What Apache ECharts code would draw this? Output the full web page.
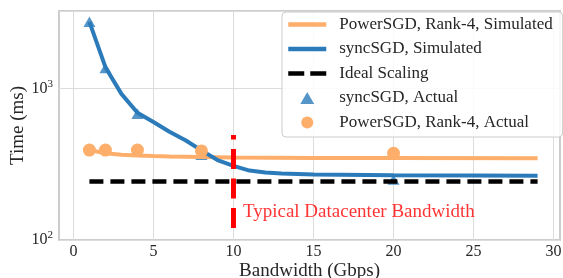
<!DOCTYPE html>
<html>
<head>
<meta charset="utf-8">
<script src="https://cdn.jsdelivr.net/npm/echarts@6/dist/echarts.min.js"></script>
<style>
  html, body { margin: 0; padding: 0; background: #fff; }
  #chart { width: 563px; height: 278px; }
</style>
</head>
<body>
<div id="chart"></div>
<script>
// bandwidth (Gbps) where the simulated curves were read
var simX = [1, 2, 3, 4, 5, 6, 7, 8, 9, 10, 11, 12, 13, 15, 20, 25, 29];
var syncSim = [2750, 1380, 920, 690, 600, 518, 455, 390, 337, 308, 287, 279, 275, 270, 267, 266, 265];
var powerSimX = [1, 2, 3, 4, 5, 6, 8, 10, 15, 20, 29];
var powerSim = [392, 373, 365, 361, 358, 356, 353, 350, 348, 347, 346];

// measured points
var syncActX = [1, 2, 4, 8, 20];
var syncAct = [2750, 1360, 680, 365, 250];
var powerActX = [1, 2, 4, 8, 20];
var powerAct = [392, 392, 392, 387, 373];

// ideal scaling line and datacenter marker
var idealX = [1, 29];
var ideal = [243, 243];
var dcX = [10, 10];
var dcY = [120, 493];

var xTicks = [0, 5, 10, 15, 20, 25, 30];
var yTicks = [100, 1000];

var FONT = "Liberation Serif";
var ORANGE = "#fdae6b";
var BLUE = "#2b7bba";
var TRIANGLE = "path://M6,0 L12,10.4 L0,10.4 Z";

function pairs(xs, ys) {
  return xs.map(function (x, i) { return [x, ys[i]]; });
}

var chart = echarts.init(document.getElementById("chart"), null, { renderer: "canvas" });

chart.setOption({
  animation: false,
  textStyle: { fontFamily: FONT, color: "#262626" },
  grid: {
    left: 59, right: 3, top: 11, bottom: 38,
    outerBoundsMode: "none",
    show: true, borderColor: "#cccccc", borderWidth: 2, backgroundColor: "#fff"
  },
  legend: {
    orient: "vertical",
    left: 282, top: 12,
    padding: [4, 10, 6, 4],
    itemWidth: 38, itemHeight: 12, itemGap: 7.5,
    symbolKeepAspect: true,
    backgroundColor: "rgba(255,255,255,0.85)",
    borderColor: "#cccccc", borderWidth: 1, borderRadius: 4,
    textStyle: { fontFamily: FONT, fontSize: 17, color: "#262626", lineHeight: 17, padding: [0, 0, 0, 8] },
    data: [
      { name: "PowerSGD, Rank-4, Simulated", itemStyle: { opacity: 0 }, lineStyle: { width: 4.5 } },
      { name: "syncSGD, Simulated", itemStyle: { opacity: 0 }, lineStyle: { width: 4.5 } },
      { name: "Ideal Scaling", itemStyle: { opacity: 0 }, lineStyle: { width: 4.5, type: [16, 6] } },
      { name: "syncSGD, Actual", icon: TRIANGLE },
      { name: "PowerSGD, Rank-4, Actual", icon: "circle" }
    ]
  },
  xAxis: {
    type: "value",
    min: -0.9, max: 30.4,
    name: "Bandwidth (Gbps)",
    nameLocation: "middle", nameGap: 22,
    nameMoveOverlap: false,
    nameTextStyle: { fontFamily: FONT, fontSize: 19, color: "#262626" },
    axisLine: { show: false },
    axisTick: { show: false, customValues: xTicks },
    axisLabel: {
      fontFamily: FONT, fontSize: 16, color: "#262626", margin: 4,
      customValues: xTicks
    },
    splitLine: { show: true, lineStyle: { color: "#dcdcdc", width: 1 } }
  },
  yAxis: {
    type: "log",
    logBase: 10,
    min: 100, max: 3240,
    name: "Time (ms)",
    nameLocation: "middle", nameGap: 31,
    nameMoveOverlap: false,
    nameTextStyle: { fontFamily: FONT, fontSize: 19, color: "#262626" },
    axisLine: { show: false },
    axisTick: { show: false },
    axisLabel: {
      margin: 6,
      formatter: function (v) {
        var r = Math.round(v);
        if (yTicks.indexOf(r) < 0) return "";
        return "{a|10}{b|" + Math.round(Math.log10(r)) + "}";
      },
      rich: {
        a: { fontFamily: FONT, fontSize: 16, color: "#262626" },
        b: { fontFamily: FONT, fontSize: 11, color: "#262626", padding: [0, 0, 9, 0] }
      }
    },
    splitLine: { show: true, lineStyle: { color: "#dcdcdc", width: 1 } },
    minorTick: { show: false },
    minorSplitLine: { show: false }
  },
  series: [
    {
      name: "syncSGD, Actual",
      type: "scatter",
      symbol: TRIANGLE, symbolSize: [12, 10.4],
      itemStyle: { color: BLUE },
      z: 2,
      data: pairs(syncActX, syncAct)
    },
    {
      name: "PowerSGD, Rank-4, Simulated",
      type: "line",
      symbol: "none",
      lineStyle: { color: ORANGE, width: 4 },
      itemStyle: { color: ORANGE },
      z: 3,
      data: pairs(powerSimX, powerSim)
    },
    {
      name: "syncSGD, Simulated",
      type: "line",
      symbol: "none",
      lineStyle: { color: BLUE, width: 4 },
      itemStyle: { color: BLUE },
      z: 3,
      data: pairs(simX, syncSim)
    },
    {
      name: "Ideal Scaling",
      type: "line",
      symbol: "none",
      lineStyle: { color: "#000", width: 4.5, type: [14, 7] },
      itemStyle: { color: "#000" },
      z: 3,
      data: pairs(idealX, ideal)
    },
    {
      name: "datacenter",
      type: "line",
      symbol: "none",
      lineStyle: { color: "#ff0000", width: 5, type: [20, 9.5] },
      z: 4,
      data: pairs(dcX, dcY)
    },
    {
      name: "PowerSGD, Rank-4, Actual",
      type: "scatter",
      symbol: "circle", symbolSize: 13,
      itemStyle: { color: ORANGE, opacity: 1 },
      z: 5,
      data: pairs(powerActX, powerAct)
    },
    {
      name: "label",
      type: "scatter",
      symbolSize: 0,
      silent: true,
      z: 6,
      label: {
        show: true, position: "right", distance: 0,
        formatter: "Typical Datacenter Bandwidth",
        fontFamily: FONT, fontSize: 19, color: "#ff0000"
      },
      data: [[10.59, 154]]
    }
  ]
});
</script>
</body>
</html>
